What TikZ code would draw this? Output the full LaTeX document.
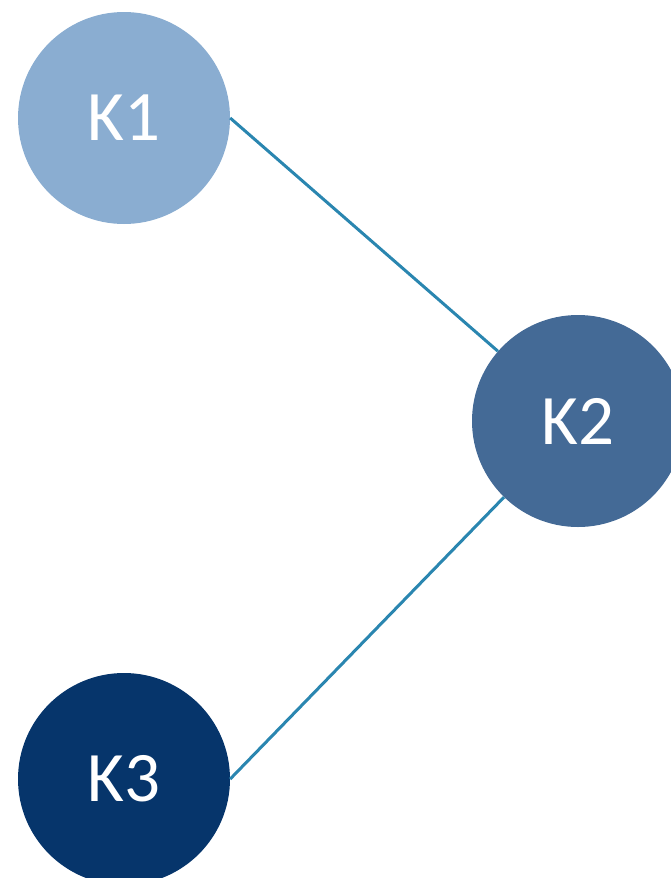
\documentclass[tikz,border=0pt]{standalone}
\usepackage{fontspec}
\setmainfont{Carlito}
\definecolor{cA}{HTML}{8AADD1}
\definecolor{cB}{HTML}{446A96}
\definecolor{cC}{HTML}{06356B}
\definecolor{cL}{HTML}{2A86B0}
\begin{document}
\begin{tikzpicture}[x=1pt,y=-1pt,
  ball/.style={circle,minimum size=212pt,inner sep=0pt,text=white,font=\fontsize{71}{71}\selectfont},
  link/.style={draw=cL,line width=3pt}]
\useasboundingbox (0,0) rectangle (670,878);
\node[ball,fill=cA] (k1) at (124,118) {K1};
\node[ball,fill=cB] (k2) at (578,421) {K2};
\node[ball,fill=cC] (k3) at (124,779) {K3};
\draw[link] (k1.east) -- (k2);
\draw[link] (k3.east) -- (k2);
\end{tikzpicture}
\end{document}
